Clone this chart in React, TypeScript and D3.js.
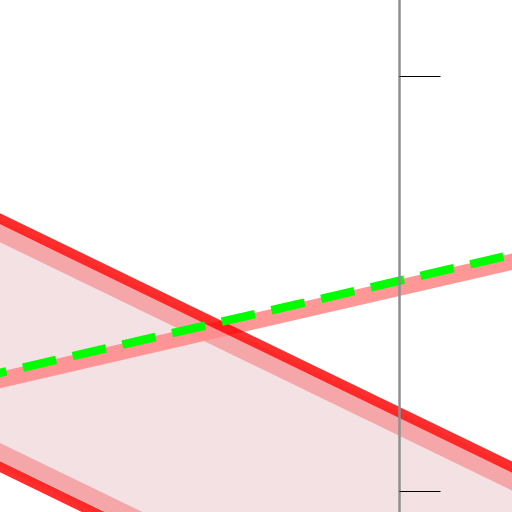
import React from "react";
import * as d3 from "d3";

// x positions (data units) of the line end points
const xValues = [-1, 0.3];
// band boundaries (outer red edges)
const upperEdge = [0.674, 0.0436];
const lowerEdge = [0.0764, -0.554];
// inner (lighter) band strokes
const upperInner = [0.639, 0.0087];
const lowerInner = [0.1125, -0.518];
// rising series
const risingLine = [0.259, 0.559];
const dashedLine = [0.276, 0.576];
// axis ticks
const tickValues = [0, 1];

const W = 512;
const H = 512;

export default function App() {
  const x = d3.scaleLinear().domain([0, 1]).range([399.5, 399.5 + 415]);
  const y = d3.scaleLinear().domain([0, 1]).range([491, 76]);

  const pts = (ys: number[]) => xValues.map((xv, i) => [xv, ys[i]] as [number, number]);
  const line = d3
    .line<[number, number]>()
    .x((d) => x(d[0]))
    .y((d) => y(d[1]));

  const area = d3
    .area<number>()
    .x((_, i) => x(xValues[i]))
    .y0((_, i) => y(lowerEdge[i]))
    .y1((_, i) => y(upperEdge[i]));

  return (
    <svg
      width={W}
      height={H}
      style={{ position: "absolute", left: 0, top: 0, display: "block", background: "#fff" }}
    >
      <path d={area(xValues) || ""} fill="#f4e1e3" />
      <path d={line(pts(upperInner)) || ""} stroke="#f4a6a8" strokeWidth={16} fill="none" />
      <path d={line(pts(lowerInner)) || ""} stroke="#f4a6a8" strokeWidth={16} fill="none" />
      <path d={line(pts(risingLine)) || ""} stroke="#ff8c8c" strokeOpacity={0.9} strokeWidth={16} fill="none" />
      <path d={line(pts(upperEdge)) || ""} stroke="#ff0000" strokeOpacity={0.82} strokeWidth={10} fill="none" />
      <path d={line(pts(lowerEdge)) || ""} stroke="#ff0000" strokeOpacity={0.82} strokeWidth={10} fill="none" />
      <path
        d={line(pts(dashedLine)) || ""}
        stroke="#00ff00"
        strokeWidth={8.5}
        strokeDasharray="34,17"
        strokeDashoffset={11.5}
        fill="none"
      />
      <line x1={x(0)} x2={x(0)} y1={0} y2={H} stroke="#8f8f8f" strokeWidth={2.5} />
      {tickValues.map((t) => (
        <line
          key={t}
          x1={x(0)}
          x2={x(0) + 41}
          y1={Math.round(y(t)) + 0.5}
          y2={Math.round(y(t)) + 0.5}
          stroke="#000"
          strokeWidth={1}
        />
      ))}
    </svg>
  );
}
